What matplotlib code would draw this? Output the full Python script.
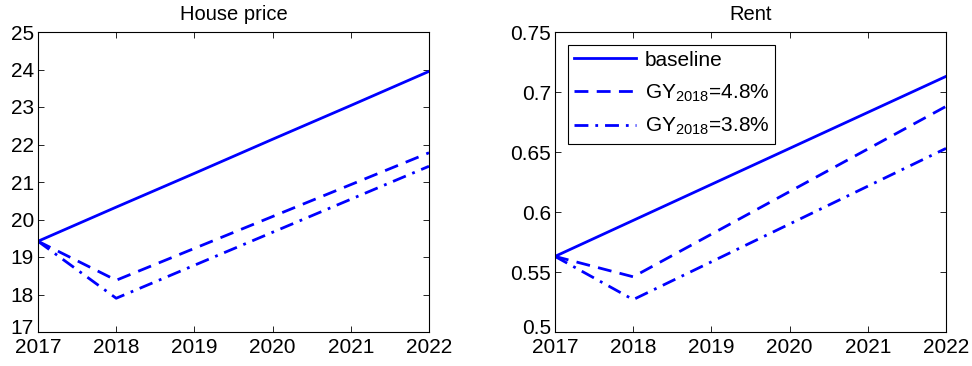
import matplotlib
matplotlib.use("Agg")
import matplotlib.pyplot as plt
import matplotlib.transforms as mtransforms

plt.rcParams["font.family"] = ["Liberation Sans", "DejaVu Sans"]
plt.rcParams["mathtext.fontset"] = "custom"
plt.rcParams["mathtext.rm"] = "Liberation Sans"
plt.rcParams["mathtext.default"] = "regular"

years = [2017, 2018, 2019, 2020, 2021, 2022]

# House price paths
hp_base = [19.42, 20.33, 21.23, 22.14, 23.04, 23.95]
hp_48 = [19.42, 18.38, 19.23, 20.08, 20.93, 21.78]
hp_38 = [19.42, 17.90, 18.78, 19.66, 20.54, 21.42]

# Rent paths
rent_base = [0.563, 0.593, 0.623, 0.653, 0.683, 0.713]
rent_48 = [0.563, 0.546, 0.5815, 0.617, 0.6525, 0.688]
rent_38 = [0.563, 0.527, 0.5585, 0.590, 0.6215, 0.653]

labels = ["baseline", "GY$_{2018}$=4.8%", "GY$_{2018}$=3.8%"]
titles = ["House price", "Rent"]

FS = 15
BLUE = "#0000ff"
styles = [dict(ls="-"), dict(ls=(0, (5, 3))), dict(ls=(0, (5, 2.5, 1, 2.5)))]

fig = plt.figure(figsize=(9.72, 3.66), dpi=100)
ax1 = fig.add_axes([38 / 972, 1 - 332 / 366, 391 / 972, 300 / 366])
ax2 = fig.add_axes([555 / 972, 1 - 332 / 366, 391 / 972, 300 / 366])

panels = [
    (ax1, [hp_base, hp_48, hp_38], (17, 25), list(range(17, 26))),
    (ax2, [rent_base, rent_48, rent_38], (0.5, 0.75), [0.5, 0.55, 0.6, 0.65, 0.7, 0.75]),
]

# nudge for the lowest y label so it doesn't sit on the first year label
nudge = mtransforms.ScaledTranslation(0, 6 / 100, fig.dpi_scale_trans)

for (ax, series, ylim, yticks), title in zip(panels, titles):
    for s, st, lab in zip(series, styles, labels):
        ax.plot(years, s, color=BLUE, lw=2.0, label=lab, **st)
    ax.set_xlim(2017, 2022)
    ax.set_ylim(*ylim)
    ax.set_xticks(years)
    ax.set_yticks(yticks)
    ax.set_yticklabels([f"{v:g}" for v in yticks])
    ax.tick_params(direction="in", top=True, right=True, labelsize=FS,
                   length=4, width=0.6)
    ax.tick_params(axis="x", pad=4)
    ax.tick_params(axis="y", pad=3)
    for sp in ax.spines.values():
        sp.set_linewidth(0.8)
    ax.set_title(title, fontsize=FS - 0.5, pad=9)
    low = ax.get_yticklabels()[0]
    low.set_transform(low.get_transform() + nudge)

leg = ax2.legend(loc="upper left", fontsize=FS, handlelength=3.0,
                 fancybox=False, framealpha=1, edgecolor="black",
                 borderaxespad=0.6, labelspacing=0.6, handletextpad=0.4,
                 borderpad=0.3)
leg.get_frame().set_linewidth(0.8)

fig.savefig("out.png", dpi=100)
